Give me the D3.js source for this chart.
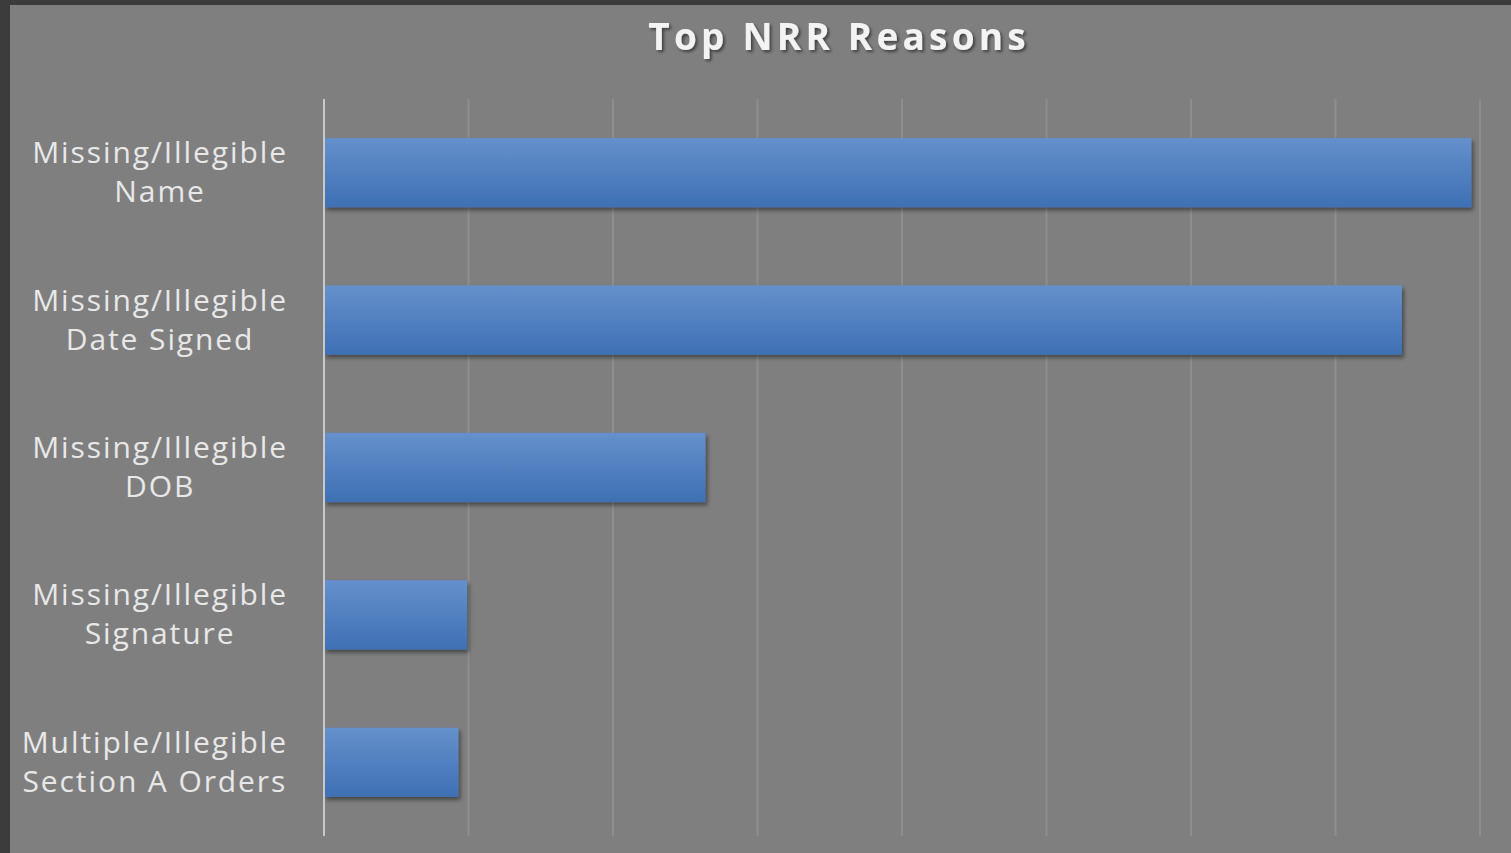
<!DOCTYPE html>
<html>
<head>
<meta charset="utf-8">
<script src="https://cdn.jsdelivr.net/npm/d3@7"></script>
<style>
  html, body { margin: 0; padding: 0; background: #3c3c3c; }
  svg { display: block; }
</style>
</head>
<body>
<svg id="chart" width="1511" height="853"></svg>
<script>
// Chart data
const title = "Top NRR Reasons";
const categories = [
    ["Missing/Illegible", "Name"],
    ["Missing/Illegible", "Date Signed"],
    ["Missing/Illegible", "DOB"],
    ["Missing/Illegible", "Signature"],
    ["Multiple/Illegible", "Section A Orders"]
];
const values = [79.4, 74.6, 26.4, 9.9, 9.3];
const tickValues = [0, 10, 20, 30, 40, 50, 60, 70, 80];

const svg = d3.select("#chart"),
    width = +svg.attr("width"),
    height = +svg.attr("height");

// plot box
const plotLeft = 324, plotRight = 1480, plotTop = 99, plotBottom = 836;

// background panel (dark frame shows on top/left)
svg.append("rect")
    .attr("x", 10).attr("y", 5)
    .attr("width", width - 10).attr("height", height - 5)
    .attr("fill", "#7f7f7f");

const defs = svg.append("defs");

const grad = defs.append("linearGradient")
    .attr("id", "barGrad")
    .attr("x1", 0).attr("y1", 0).attr("x2", 0).attr("y2", 1);
grad.append("stop").attr("offset", "0%").attr("stop-color", "#6590cc");
grad.append("stop").attr("offset", "100%").attr("stop-color", "#3e70b4");

defs.append("filter")
    .attr("id", "barShadow")
    .attr("x", "-5%").attr("y", "-20%").attr("width", "115%").attr("height", "160%")
    .append("feDropShadow")
    .attr("dx", 2).attr("dy", 3).attr("stdDeviation", 2)
    .attr("flood-color", "#000").attr("flood-opacity", 0.45);

defs.append("filter")
    .attr("id", "titleShadow")
    .attr("x", "-10%").attr("y", "-30%").attr("width", "120%").attr("height", "170%")
    .append("feDropShadow")
    .attr("dx", 2).attr("dy", 2).attr("stdDeviation", 1.5)
    .attr("flood-color", "#000").attr("flood-opacity", 0.5);

const x = d3.scaleLinear()
    .domain([0, 80])
    .range([plotLeft, plotRight]);

const y = d3.scaleBand()
    .domain(categories.map((d, i) => i))
    .range([plotTop, plotBottom])
    .paddingInner(0.53)
    .paddingOuter(0.265);

// vertical gridlines
svg.append("g")
    .selectAll("line")
    .data(tickValues.slice(1))
    .enter().append("line")
    .attr("x1", d => x(d)).attr("x2", d => x(d))
    .attr("y1", plotTop).attr("y2", plotBottom)
    .attr("stroke", "#8e8e8e")
    .attr("stroke-width", 2);

// bars
svg.append("g")
    .selectAll("rect")
    .data(values)
    .enter().append("rect")
    .attr("x", x(0))
    .attr("y", (d, i) => y(i))
    .attr("width", d => x(d) - x(0))
    .attr("height", y.bandwidth())
    .attr("fill", "url(#barGrad)")
    .attr("filter", "url(#barShadow)");

// category axis line
svg.append("line")
    .attr("x1", plotLeft).attr("x2", plotLeft)
    .attr("y1", plotTop).attr("y2", plotBottom)
    .attr("stroke", "#c9c9c9")
    .attr("stroke-width", 2);

// category labels: lines centred, block right-aligned
const labelRight = 287, lineGap = 39, labelSpacing = 1.9;
const labels = svg.append("g")
    .selectAll("text")
    .data(categories)
    .enter().append("text")
    .attr("font-family", "'Open Sans', sans-serif")
    .attr("font-size", 30)
    .attr("letter-spacing", labelSpacing)
    .attr("fill", "#e8e8e8")
    .attr("text-anchor", "middle");

labels.each(function(lines, i) {
    const t = d3.select(this);
    const cy = y(i) + y.bandwidth() / 2;
    lines.forEach((s, j) => {
        t.append("tspan")
            .attr("y", cy + (j - (lines.length - 1) / 2) * lineGap + 10)
            .text(s);
    });
    let w = 0;
    t.selectAll("tspan").each(function() { w = Math.max(w, this.getComputedTextLength()); });
    // trailing letter-spacing is counted in the length, so shift by half of it
    t.selectAll("tspan").attr("x", labelRight - w / 2 + labelSpacing / 2);
});

// title
svg.append("text")
    .attr("x", 837 + 2.1)
    .attr("y", 50)
    .attr("text-anchor", "middle")
    .attr("font-family", "'Open Sans', sans-serif")
    .attr("font-weight", "bold")
    .attr("font-size", 37)
    .attr("letter-spacing", 4.2)
    .attr("fill", "#f3f3f3")
    .attr("filter", "url(#titleShadow)")
    .text(title);
</script>
</body>
</html>
